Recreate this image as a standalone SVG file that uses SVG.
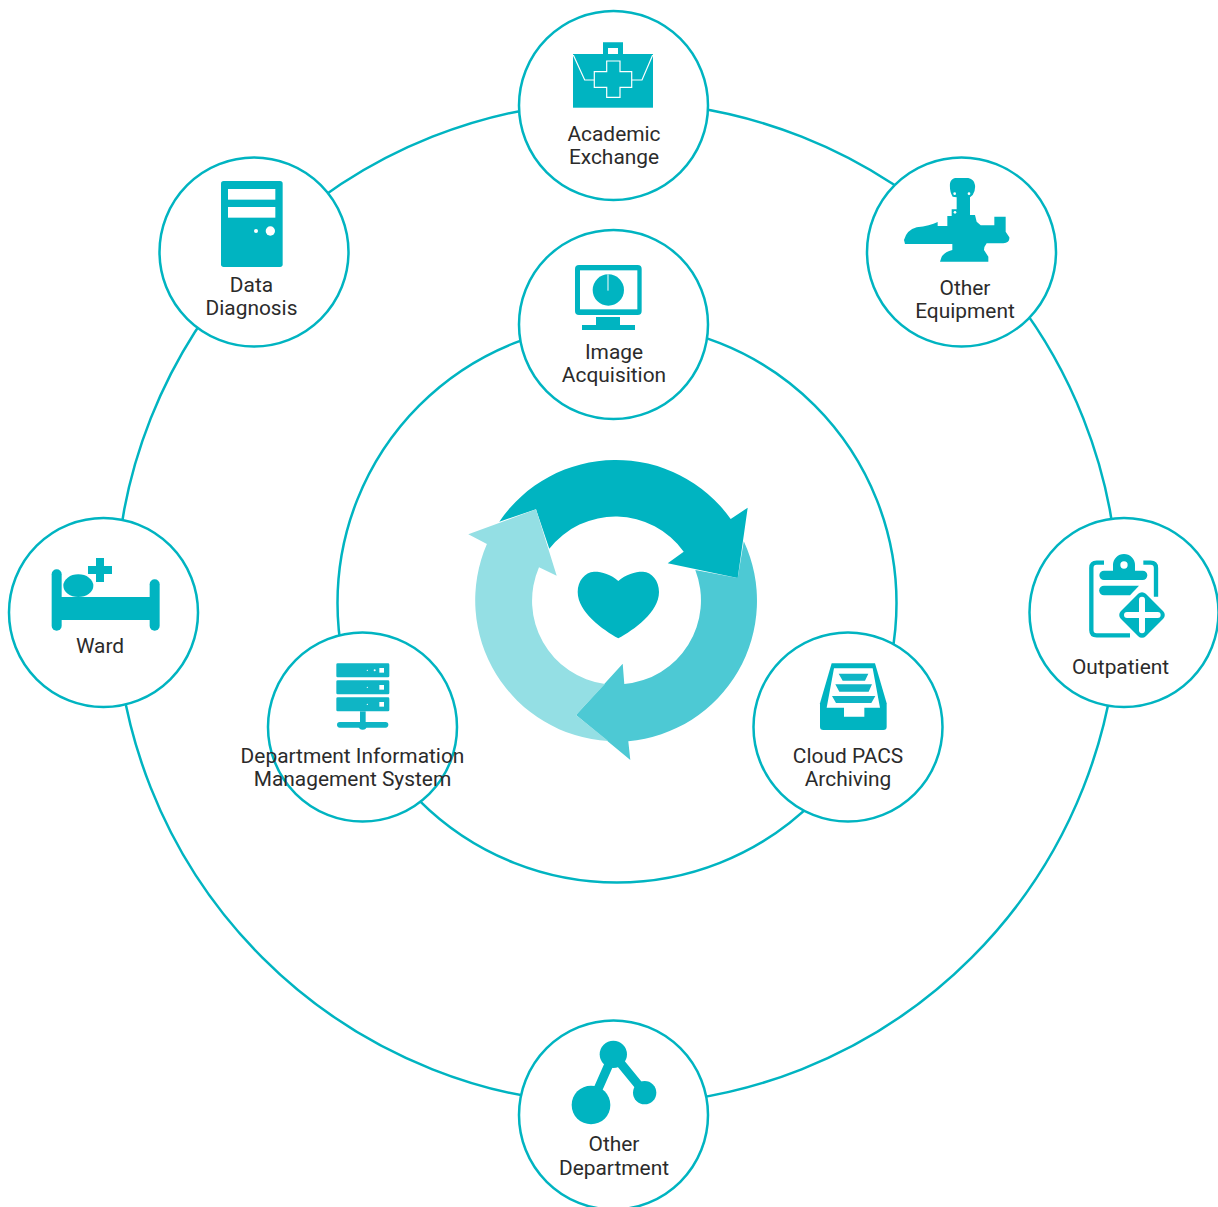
<svg xmlns="http://www.w3.org/2000/svg" width="1218" height="1207" viewBox="0 0 1218 1207">
<style>
.ring{fill:none;stroke:#00b4c1;stroke-width:2.5}
.disc{fill:#fff;stroke:#00b4c1;stroke-width:2.5}
.i{fill:#00b4c1}
.w{fill:#fff}
text{font-family:Roboto,"Liberation Sans",sans-serif;font-size:20.9px;fill:#2b2b2b;text-anchor:middle}
</style>
<rect width="1218" height="1207" fill="#fff"/>
<g id="connectors">
<circle class="ring" cx="617" cy="603" r="501.500"/>
<circle class="ring" cx="617" cy="603" r="279.500"/>
</g>
<g id="cycle">
<path fill="#4dc9d4" d="M743.800,541.200A141,141 0 0 1 628.300,741.200L630.300,760L576,715L622.700,663.700L624.300,684A84,84 0 0 0 695.300,570L737.700,578Z"/>
<path fill="#00b4c1" d="M499.300,521.700A141,141 0 0 1 730.700,519L747.700,507.700L737.700,578L667.700,563.300L683.700,551.700A84,84 0 0 0 549.300,548.700L536,509.300Z"/>
<path fill="#94dfe4" d="M468.300,534.300L536,509.300L556.700,575.700L539,567.300A84,84 0 0 0 605,684L576,715L608.300,741A141,141 0 0 1 486.900,544Z"/>
<path class="i" d="M618.300,581C626,574 636,571.500 643,571.700C652,572 659,581 659,592C659,612 634,630 618.300,638.300C603,630 577.700,612 577.700,592C577.700,581 585,572 594,571.700C601,571.500 611,574 618.300,581Z"/>
</g>
<g id="academic-exchange">
<circle class="disc" cx="613.500" cy="105.500" r="94.500"/>
<path class="i" d="M603,55V42.300H623V55H618V48H608V55Z"/>
<rect class="i" x="573" y="54" width="80" height="53.700"/>
<path fill="none" stroke="#fff" stroke-width="1.200" d="M573.300,55L584.700,80H594.300M652.700,55L642,80H631.700"/>
<path class="i" stroke="#fff" stroke-width="1.200" d="M606.700,61H620V71.700H631.700V87.300H620V97.300H606.700V87.300H594.300V71.700H606.700Z"/>
<text x="614" y="141">Academic</text><text x="614" y="164">Exchange</text>
</g>
<g id="other-equipment">
<circle class="disc" cx="961.500" cy="252" r="94.500"/>
<g transform="translate(860,150) scale(.33333)">
<path class="i" d="M285,84H325Q343,88 345,105Q347,122 338,135L330,142V195H345L350,215L362,226H403V200H437V245L448,262Q450,278 430,280H380Q372,290 372,300L385,320V335H240L245,320Q255,305 277,300V282H135L132,270Q140,240 170,232Q210,228 233,216V228H262V198H275V178H290V142L278,140Q268,125 270,100Q272,88 285,84Z"/>
<circle class="w" cx="284" cy="131" r="4"/><circle class="w" cx="327" cy="131" r="4"/><circle class="w" cx="285" cy="187" r="4"/>
</g>
<text x="965" y="295">Other</text><text x="965" y="318">Equipment</text>
</g>
<g id="data-diagnosis">
<circle class="disc" cx="254" cy="252" r="94.500"/>
<g transform="translate(170,160) scale(.33333)">
<rect class="i" x="153" y="63" width="185" height="258" rx="8"/>
<rect class="w" x="174" y="87" width="142" height="32"/><rect class="w" x="174" y="141" width="142" height="32"/>
<circle class="w" cx="301" cy="213" r="14"/><circle class="w" cx="258" cy="213" r="6"/>
</g>
<text x="251.500" y="292">Data</text><text x="251.500" y="315">Diagnosis</text>
</g>
<g id="image-acquisition">
<circle class="disc" cx="613.500" cy="324.500" r="94.500"/>
<g transform="translate(520,240) scale(.33333)">
<rect class="i" x="165" y="75" width="200" height="150" rx="12"/>
<rect class="w" x="180" y="91" width="172" height="117"/>
<rect class="i" x="228" y="231" width="72" height="25"/><rect class="i" x="186" y="255" width="159" height="15"/>
<circle class="i" cx="265" cy="150" r="47"/>
<path stroke="#fff" stroke-width="3" d="M264,103V152"/>
</g>
<text x="614" y="359">Image</text><text x="614" y="382">Acquisition</text>
</g>
<g id="ward">
<circle class="disc" cx="103.500" cy="612.500" r="94.500"/>
<g transform="translate(0,520) scale(.33333)">
<rect class="i" x="155" y="148" width="30" height="184" rx="15"/>
<rect class="i" x="449" y="178" width="30" height="154" rx="15"/>
<rect class="i" x="180" y="231" width="275" height="69"/>
<ellipse class="i" cx="235" cy="197" rx="45" ry="34"/>
<path class="i" d="M288,114H312V138H336V162H312V186H288V162H264V138H288Z"/>
</g>
<text x="100" y="653">Ward</text>
</g>
<g id="outpatient">
<circle class="disc" cx="1124" cy="612.500" r="94.500"/>
<g transform="translate(1030,520) scale(.33333)">
<path fill="none" stroke="#00b4c1" stroke-width="13" d="M222,128H200Q184,128 184,144V330Q184,346 200,346H300M340,128H362Q378,128 378,144V230"/>
<path class="i" fill-rule="evenodd" d="M249,152V135A33,33 0 0 1 315,135V152H338A14,14 0 0 1 338,180H222A14,14 0 0 1 222,152ZM271,135A11,11 0 0 0 293,135A11,11 0 0 0 271,135Z"/>
<path class="i" d="M222,197H327L300,226H222A14.500,14.500 0 0 1 222,197Z"/>
<rect class="i" x="283" y="232" width="106" height="106" rx="16" transform="rotate(45 336 285)"/>
<rect class="w" x="282" y="276" width="110" height="18" rx="9"/><rect class="w" x="327" y="230" width="18" height="110" rx="9"/>
</g>
<text x="1120.500" y="674">Outpatient</text>
</g>
<g id="department-information-management-system">
<circle class="disc" cx="362.500" cy="727" r="94.500"/>
<g transform="translate(260,630) scale(.33333)">
<g fill="#0fb5c5">
<rect x="229" y="100" width="159" height="42" rx="4"/><rect x="229" y="151" width="159" height="42" rx="4"/><rect x="229" y="202" width="159" height="42" rx="4"/>
<rect x="300" y="244" width="17" height="36"/><rect x="231" y="276" width="154" height="17" rx="8.500"/><circle cx="308" cy="287" r="12"/>
</g>
<rect class="w" x="358" y="114" width="14" height="14"/><rect class="w" x="358" y="165" width="14" height="14"/><rect class="w" x="358" y="216" width="14" height="14"/>
<circle class="w" cx="344" cy="121" r="3"/><circle class="w" cx="322" cy="121" r="2"/><circle class="w" cx="322" cy="172" r="2"/><circle class="w" cx="322" cy="223" r="2"/>
</g>
<text x="352.500" y="763">Department Information</text><text x="352.500" y="786">Management System</text>
</g>
<g id="cloud-pacs-archiving">
<circle class="disc" cx="848" cy="727" r="94.500"/>
<g transform="translate(760,640) scale(.33333)">
<path class="i" d="M215,70H345L380,190V260Q380,270 370,270H190Q180,270 180,260V190Z"/>
<path class="w" d="M222,85H338L360,203H313V230H252V203H200Z"/>
<path fill="#0fb5c5" d="M236,101H325L315,122H248ZM226,133H336L326,155H238ZM216,168H346L334,189H228Z"/>
</g>
<text x="848" y="763">Cloud PACS</text><text x="848" y="786">Archiving</text>
</g>
<g id="other-department">
<circle class="disc" cx="613.500" cy="1115" r="94.500"/>
<g transform="translate(530,1025) scale(.33333)">
<path fill="none" stroke="#00b4c1" stroke-width="27" d="M183,240L250,88L344,203"/>
<circle class="i" cx="250" cy="88" r="41"/><circle class="i" cx="183" cy="240" r="58"/><circle class="i" cx="344" cy="203" r="35"/>
</g>
<text x="614" y="1151">Other</text><text x="614" y="1175">Department</text>
</g>
</svg>
